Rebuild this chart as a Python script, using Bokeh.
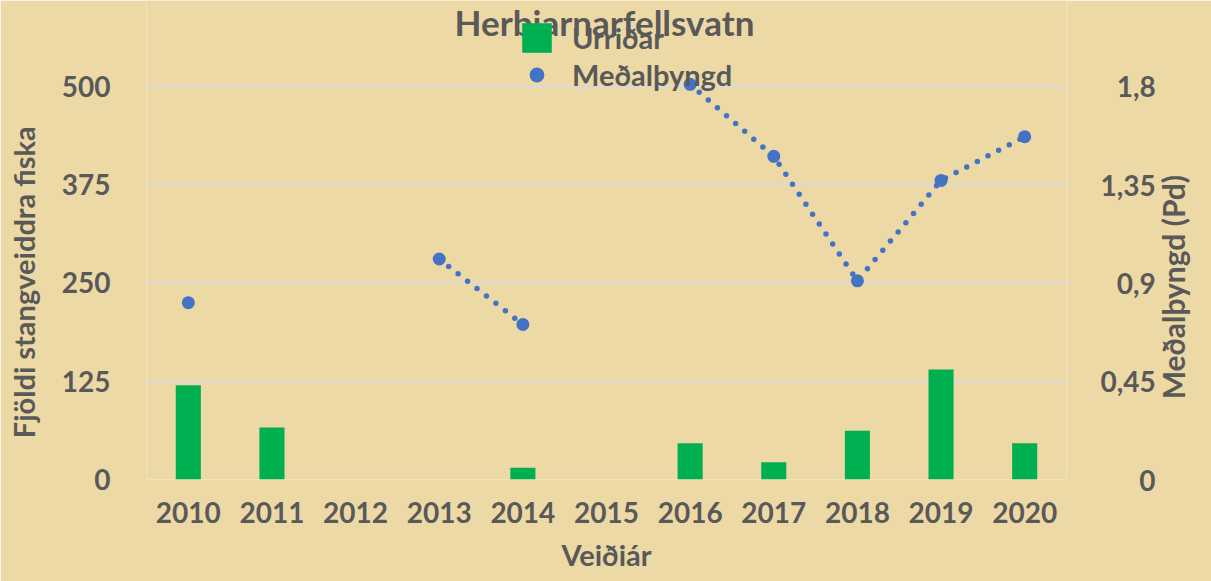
import math
from bokeh.plotting import figure
from bokeh.models import (FactorRange, Range1d, LinearAxis, FixedTicker, Legend,
                          LegendItem, ColumnDataSource, Label)
from bokeh.embed import file_html
from bokeh.resources import INLINE

# ---------------- data ----------------
years = ["2010", "2011", "2012", "2013", "2014", "2015", "2016", "2017", "2018", "2019", "2020"]
urridar = [120, 66, 0, 0, 15, 0, 46, 22, 62, 140, 46]
medalthyngd = [0.81, float("nan"), float("nan"), 1.01, 0.71, float("nan"), 1.81, 1.48, 0.91, 1.37, 1.57]
left_ticks = [0, 125, 250, 375, 500]
right_ticks = [0, 0.45, 0.9, 1.35, 1.8]
right_tick_labels = ["0", "0,45", "0,9", "1,35", "1,8"]

title_text = "Herbjarnarfellsvatn"
bar_name = "Urriðar"
point_name = "Meðalþyngd"
x_title = "Veiðiár"
y_title = "Fjöldi stangveiddra fiska"
y2_title = "Meðalþyngd (Pd)"

# ---------------- style ----------------
BG = "#EDD9A6"
TXT = "#595959"
GREEN = "#00B050"
BLUE = "#4472C4"
FONT = "Lato"
FS, PS = "\u2007", "\u2008"   # figure space / punctuation space for right-aligned labels
NBSP = "\u00a0"


def pad(s, target="1,35"):
    nd = sum(c.isdigit() for c in target) - sum(c.isdigit() for c in s)
    nc = target.count(",") - s.count(",")
    return FS * nd + PS * nc + s


src = ColumnDataSource(dict(year=years, urr=urridar, med=medalthyngd))

W, H = 1211, 581
Y_TOP = 609.4
p = figure(width=W, height=H, x_range=FactorRange(*years, range_padding=0),
           y_range=Range1d(0, Y_TOP), output_backend="svg", toolbar_location=None, title=None,
           min_border_left=146, min_border_right=145, min_border_top=0, min_border_bottom=102)
p.extra_y_ranges = {"right": Range1d(0, Y_TOP * 1.8 / 500)}

p.background_fill_color = BG
p.border_fill_color = BG
p.outline_line_color = None

bars = p.vbar(x="year", top="urr", width=0.3, source=src, fill_color=GREEN, line_color=None)
ln = p.line(x="year", y="med", source=src, y_range_name="right", line_color=BLUE,
            line_width=5.5, line_dash="0 12", line_cap="round")
pts = p.scatter(x="year", y="med", source=src, y_range_name="right", size=13,
                fill_color=BLUE, line_color=None)

# grid
p.xgrid.grid_line_color = None
p.ygrid.ticker = FixedTicker(ticks=left_ticks)
p.ygrid.grid_line_color = "#D9D9D9"
p.ygrid.grid_line_width = 2


def style_axis(ax, label_size="28px"):
    ax.axis_line_color = None
    ax.major_tick_line_color = None
    ax.minor_tick_line_color = None
    ax.major_tick_out = 0
    ax.major_tick_in = 0
    ax.major_label_text_font = FONT
    ax.major_label_text_font_size = "28px"
    ax.major_label_text_font_style = "bold"
    ax.major_label_text_color = TXT
    ax.axis_label_text_font = FONT
    ax.axis_label_text_font_size = label_size
    ax.axis_label_text_font_style = "bold"
    ax.axis_label_text_color = TXT


# left axis
ly = p.yaxis[0]
ly.ticker = FixedTicker(ticks=left_ticks)
style_axis(ly, "29px")
ly.major_label_standoff = 36
ly.axis_label = y_title + NBSP * 12
ly.axis_label_standoff = 18

# x axis
xa = p.xaxis[0]
style_axis(xa, "29px")
xa.major_label_standoff = 22
xa.axis_label = x_title
xa.axis_label_standoff = 11

# right axis
ry = LinearAxis(y_range_name="right", ticker=FixedTicker(ticks=right_ticks),
                major_label_overrides={t: pad(s) for t, s in zip(right_ticks, right_tick_labels)})
style_axis(ry, "30px")
ry.major_label_standoff = 34
ry.axis_label_orientation = math.pi / 2
ry.axis_label_standoff = 14
if "axis_label_align" in ry.properties():
    ry.axis_label_align = "start"
    ry.axis_label = NBSP * 11 + y2_title
else:
    ry.axis_label = y2_title
p.add_layout(ry, "right")

# chart title (inside the frame so it may overlap the legend as in the original)
p.add_layout(Label(x=458, y=458, x_units="screen", y_units="screen", text=title_text,
                   text_align="center", text_baseline="alphabetic", text_font=FONT,
                   text_font_size="35px", text_font_style="bold", text_color=TXT))

legend = Legend(items=[LegendItem(label=bar_name, renderers=[bars]),
                       LegendItem(label=point_name, renderers=[pts])],
                location=(372, 386), orientation="vertical", glyph_width=37, glyph_height=37,
                spacing=0, label_standoff=17, padding=0, margin=0,
                background_fill_alpha=0, border_line_color=None,
                label_text_font=FONT, label_text_font_size="29px", label_text_font_style="bold",
                label_text_color=TXT)
p.add_layout(legend)

open("out.html", "w").write(file_html(p, INLINE))
